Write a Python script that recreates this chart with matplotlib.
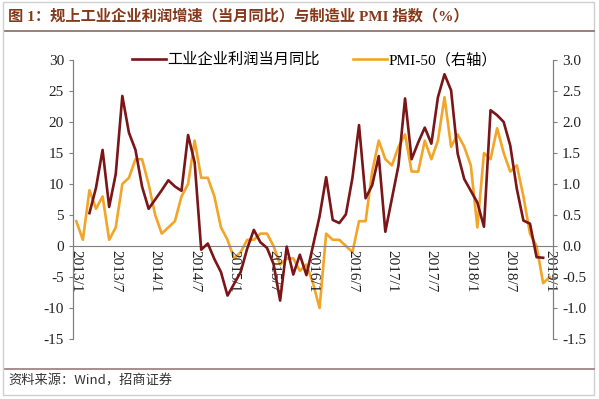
import matplotlib.pyplot as plt
from matplotlib.patches import Rectangle
from matplotlib.lines import Line2D
import numpy as np

plt.rcParams["axes.unicode_minus"] = False

# Months 2013/1 .. 2019/1
months = [f"{y}/{m}" for y in range(2013, 2020) for m in range(1, 13)][:73]

# Industrial profit, monthly yoy (%), None = no data (Jan merged into Feb)
profit = [
    None, None, 5.3, 9.4, 15.5, 6.3, 11.6, 24.2, 18.3, 15.5, 9.6, 6.0,
    None, 9.0, 10.6, 9.6, 8.9, 17.9, 13.5, -0.6, 0.4, -2.1, -4.2, -8.0,
    None, -4.2, -0.4, 2.6, 0.6, -0.3, -2.9, -8.8, -0.1, -4.6, -1.4, -4.7,
    None, 4.8, 11.1, 4.2, 3.7, 5.1, 11.0, 19.5, 7.7, 9.8, 14.5, 2.3,
    None, 13.0, 23.8, 14.0, 16.7, 19.1, 16.5, 24.0, 27.7, 25.1, 14.9, 10.8,
    None, 7.0, 3.1, 21.9, 21.1, 20.0, 16.2, 9.2, 4.1, 3.6, -1.8, -1.9,
    None,
]

# PMI - 50 (right axis)
pmi50 = [
    0.4, 0.1, 0.9, 0.6, 0.8, 0.1, 0.3, 1.0, 1.1, 1.4, 1.4, 1.0,
    0.5, 0.2, 0.3, 0.4, 0.8, 1.0, 1.7, 1.1, 1.1, 0.8, 0.3, 0.1,
    -0.2, -0.1, 0.1, 0.1, 0.2, 0.2, 0.0, -0.3, -0.2, -0.2, -0.4, -0.3,
    -0.6, -1.0, 0.2, 0.1, 0.1, 0.0, -0.1, 0.4, 0.4, 1.2, 1.7, 1.4,
    1.3, 1.6, 1.8, 1.2, 1.2, 1.7, 1.4, 1.7, 2.4, 1.6, 1.8, 1.6,
    1.3, 0.3, 1.5, 1.4, 1.9, 1.5, 1.2, 1.3, 0.8, 0.2, 0.0, -0.6,
    -0.5,
]

tick_labels = months[::6]

RED = "#7a1518"
ORANGE = "#f2a527"
GRAY = "#7f7f7f"
serif_cjk = ["Liberation Serif", "Noto Sans CJK SC"]

fig = plt.figure(figsize=(5.99, 3.99), dpi=100)
ax = fig.add_axes([73 / 599, 1 - 339 / 399, 480 / 599, 279 / 399])
ax2 = ax.twinx()

x = np.arange(len(months))
p = np.array([np.nan if v is None else v for v in profit], dtype=float)
ok = ~np.isnan(p)
ax.plot(x[ok], p[ok], color=RED, lw=1.9, zorder=3)
ax2.plot(x, pmi50, color=ORANGE, lw=1.9, zorder=2)
ax.set_zorder(ax2.get_zorder() + 1)
ax.patch.set_visible(False)

ax.set_xlim(-0.5, len(months) - 0.5)
ax.set_ylim(-15, 30)
ax.set_yticks(range(-15, 31, 5))
ax2.set_ylim(-1.5, 3.0)
ax2.set_yticks(np.arange(-1.5, 3.01, 0.5))
ax2.set_yticklabels([f"{v:.1f}" for v in np.arange(-1.5, 3.01, 0.5)])

for a in (ax, ax2):
    a.spines["top"].set_visible(False)
    a.spines["left"].set_color(GRAY)
    a.spines["right"].set_color(GRAY)
    a.spines["bottom"].set_visible(False)
ax.spines["bottom"].set_visible(True)
ax.spines["bottom"].set_position(("data", 0))
ax.spines["bottom"].set_color(GRAY)

ax.set_xticks(x[::6])
ax.set_xticklabels(tick_labels, rotation=-90, family="Liberation Serif", fontsize=11, color="#222222")
ax.tick_params(axis="x", length=0, pad=3)
ax.tick_params(axis="y", direction="out", length=3, color=GRAY, labelsize=11, labelcolor="#222222")
ax2.tick_params(axis="y", direction="out", length=3, color=GRAY, labelsize=11, labelcolor="#222222")
for lbl in ax.get_yticklabels() + ax2.get_yticklabels():
    lbl.set_family("Liberation Serif")

handles = [Line2D([], [], color=RED, lw=1.9), Line2D([], [], color=ORANGE, lw=1.9)]
fig.legend(handles, ["工业企业利润当月同比", "PMI-50（右轴）"], loc="center",
           bbox_to_anchor=(0.525, 0.85), ncol=2, frameon=False, handlelength=2.2,
           handletextpad=0.1, columnspacing=2.2, prop={"family": serif_cjk, "size": 11})

fig.text(8 / 599, 1 - 16 / 399, "图 1：规上工业企业利润增速（当月同比）与制造业 PMI 指数（%）",
         fontsize=11, fontweight="bold", color="#86391a", family=serif_cjk, va="center", ha="left")
fig.add_artist(Line2D([5 / 599, 594 / 599], [1 - 31 / 399] * 2, color="#8a6a62", lw=1.2))
fig.add_artist(Line2D([5 / 599, 594 / 599], [1 - 369 / 399] * 2, color="#9a7c7c", lw=1.2))
fig.text(8 / 599, 1 - 381 / 399, "资料来源：Wind，招商证券", fontsize=9.5, color="#333333",
         family=["Noto Sans CJK SC"], va="center", ha="left")
fig.add_artist(Rectangle((3 / 599, 4 / 399), 591 / 599, 393 / 399, transform=fig.transFigure,
                         fill=False, edgecolor="#cfcfcf", lw=1))

fig.savefig("out.png", dpi=100)
